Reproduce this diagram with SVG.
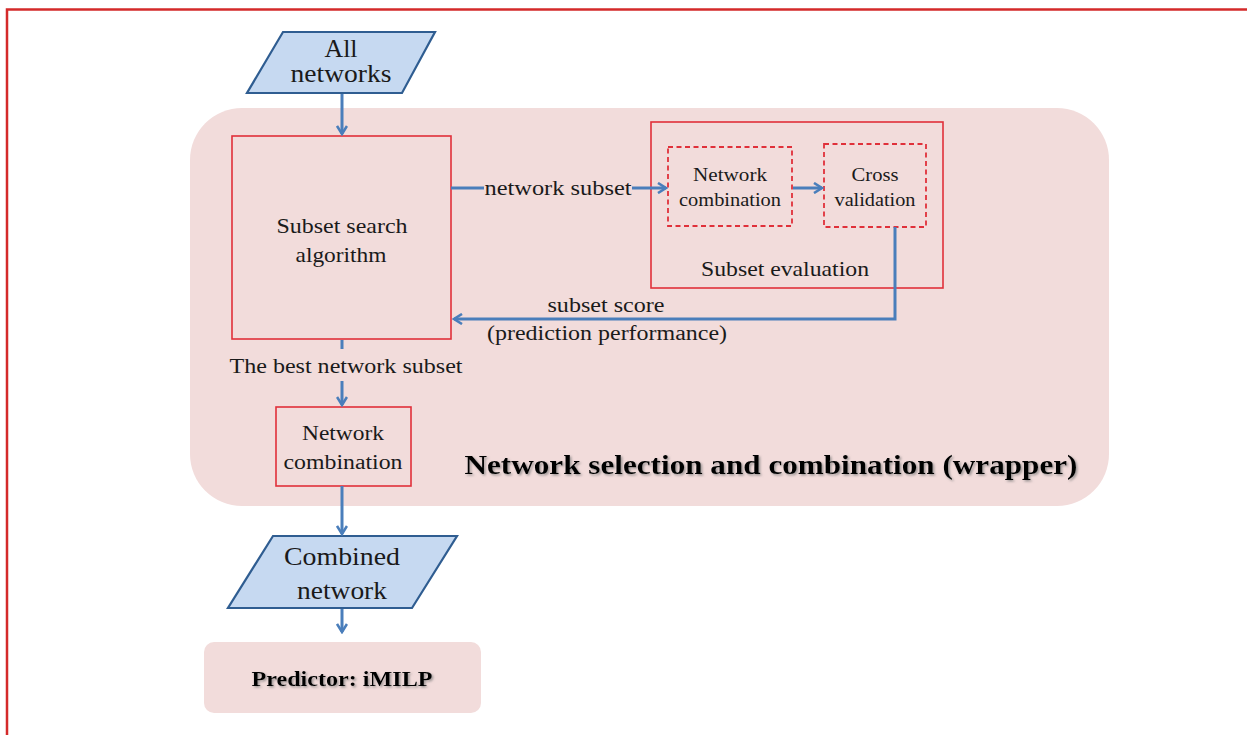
<svg xmlns="http://www.w3.org/2000/svg" width="1247" height="735" viewBox="0 0 1247 735">
<defs>
<style>
.t{font-family:"Liberation Serif","Times New Roman",serif;fill:#1a1a1a;text-anchor:middle}
.box{fill:none;stroke:#e0303a;stroke-width:1.6}
.dash{fill:none;stroke:#e0303a;stroke-width:1.8;stroke-dasharray:5,3.5}
.para{fill:#c6d9f1;stroke:#2f5d91;stroke-width:2.2}
.conn{fill:none;stroke:#4a7ebb;stroke-width:3}
.b{font-weight:bold;fill:#000}
</style>
<marker id="ah" viewBox="0 0 12 12" refX="10" refY="6" markerWidth="12" markerHeight="12" markerUnits="userSpaceOnUse" orient="auto">
<path d="M2,1 L10,6 L2,11" fill="none" stroke="#4a7ebb" stroke-width="2.6"/>
</marker>
<filter id="sh" x="-5%" y="-20%" width="110%" height="150%">
<feDropShadow dx="1.5" dy="1.5" stdDeviation="0.8" flood-color="#777" flood-opacity="0.7"/>
</filter>
</defs>
<rect x="0" y="0" width="1247" height="735" fill="#fff"/>
<path d="M7,740 L7,9.5 L1250,9.5" fill="none" stroke="#d42a2a" stroke-width="2.5"/>

<g id="wrapper">
<rect x="190" y="108" width="919" height="398" rx="52" fill="#f2dcdb"/>
<text class="t b" x="771" y="474" font-size="28" textLength="613" lengthAdjust="spacingAndGlyphs" filter="url(#sh)">Network selection and combination (wrapper)</text>
</g>

<g id="all-networks">
<polygon class="para" points="283,32 435,32 402,93 247,93"/>
<text class="t" x="341" y="57" font-size="25" textLength="33" lengthAdjust="spacingAndGlyphs">All</text>
<text class="t" x="341" y="82" font-size="25" textLength="101" lengthAdjust="spacingAndGlyphs">networks</text>
</g>

<g id="subset-search">
<rect class="box" x="232" y="136" width="219" height="203"/>
<text class="t" x="342" y="233" font-size="22" textLength="131" lengthAdjust="spacingAndGlyphs">Subset search</text>
<text class="t" x="341" y="262" font-size="22" textLength="91" lengthAdjust="spacingAndGlyphs">algorithm</text>
</g>

<g id="subset-evaluation">
<rect class="box" x="651" y="122" width="292" height="166"/>
<text class="t" x="785" y="276" font-size="21" textLength="168" lengthAdjust="spacingAndGlyphs">Subset evaluation</text>
</g>

<g id="network-combination-eval">
<rect class="dash" x="668" y="147" width="124" height="79"/>
<text class="t" x="730" y="181" font-size="18" textLength="74" lengthAdjust="spacingAndGlyphs">Network</text>
<text class="t" x="730" y="206" font-size="18" textLength="102" lengthAdjust="spacingAndGlyphs">combination</text>
</g>

<g id="cross-validation">
<rect class="dash" x="824" y="144" width="102" height="83"/>
<text class="t" x="875" y="181" font-size="18" textLength="47" lengthAdjust="spacingAndGlyphs">Cross</text>
<text class="t" x="875" y="206" font-size="18" textLength="81" lengthAdjust="spacingAndGlyphs">validation</text>
</g>

<g id="network-combination">
<rect class="box" x="276" y="407" width="135" height="79"/>
<text class="t" x="343" y="440" font-size="20" textLength="82" lengthAdjust="spacingAndGlyphs">Network</text>
<text class="t" x="343" y="469" font-size="20" textLength="119" lengthAdjust="spacingAndGlyphs">combination</text>
</g>

<g id="combined-network">
<polygon class="para" points="273,536 457,536 412,608 228,608"/>
<text class="t" x="342" y="565" font-size="25" textLength="116" lengthAdjust="spacingAndGlyphs">Combined</text>
<text class="t" x="342" y="599" font-size="25" textLength="90" lengthAdjust="spacingAndGlyphs">network</text>
</g>

<g id="predictor">
<rect x="204" y="642" width="277" height="71" rx="10" fill="#f2dcdb"/>
<text class="t b" x="342" y="686" font-size="21" textLength="181" lengthAdjust="spacingAndGlyphs" filter="url(#sh)">Predictor: iMILP</text>
</g>

<g id="connectors">
<path class="conn" d="M342,94 L342,134" marker-end="url(#ah)"/>
<path class="conn" d="M451,188 L484,188"/>
<path class="conn" d="M632,188 L666,188" marker-end="url(#ah)"/>
<text class="t" x="558" y="195" font-size="20" textLength="147" lengthAdjust="spacingAndGlyphs">network subset</text>
<path class="conn" d="M793,188 L822,188" marker-end="url(#ah)"/>
<path class="conn" d="M895,227 L895,319 L454,319" marker-end="url(#ah)"/>
<text class="t" x="606" y="312" font-size="20" textLength="117" lengthAdjust="spacingAndGlyphs">subset score</text>
<text class="t" x="607" y="340" font-size="20" textLength="240" lengthAdjust="spacingAndGlyphs">(prediction performance)</text>
<path class="conn" d="M342,340 L342,349"/>
<text class="t" x="346" y="373" font-size="20" textLength="233" lengthAdjust="spacingAndGlyphs">The best network subset</text>
<path class="conn" d="M342,381 L342,405" marker-end="url(#ah)"/>
<path class="conn" d="M342,486 L342,534" marker-end="url(#ah)"/>
<path class="conn" d="M342,609 L342,632" marker-end="url(#ah)"/>
</g>
</svg>
